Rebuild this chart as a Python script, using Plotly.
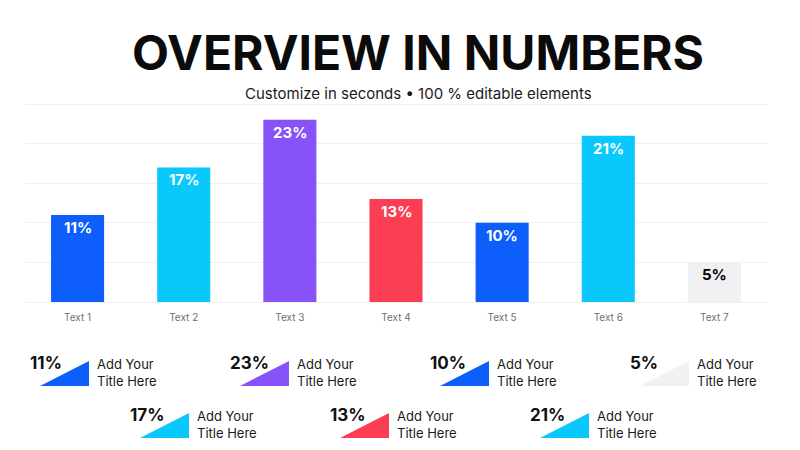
import plotly.graph_objects as go

# chart data
categories = ["Text 1", "Text 2", "Text 3", "Text 4", "Text 5", "Text 6", "Text 7"]
values = [11, 17, 23, 13, 10, 21, 5]
bar_colors = ["#0d5efb", "#0ac8fb", "#8752f7", "#fb3e53", "#0d5efb", "#0ac8fb", "#f1f0f3"]
label_colors = ["white", "white", "white", "white", "white", "white", "black"]
y_ticks = [0, 5, 10, 15, 20, 25]

title_text = "OVERVIEW IN NUMBERS"
subtitle_text = "Customize in seconds \u2022 100 % editable elements"
item_caption = "Add Your<br>Title Here"

W, H = 800, 450


def px(x):
    return x / W


def py(y):
    return (H - y) / H


fig = go.Figure()

fig.add_trace(go.Bar(
    x=categories,
    y=values,
    width=0.5,
    marker=dict(color=bar_colors, line=dict(width=0)),
    hoverinfo="x+y",
))

annotations = []
# value labels inside the bar tops
for cat, v, c in zip(categories, values, label_colors):
    annotations.append(dict(
        x=cat, y=v, xref="x", yref="y", text=f"<b>{v}%</b>",
        showarrow=False, yanchor="top", yshift=-1,
        font=dict(family="Inter", size=15, color=c),
    ))

# title block
annotations.append(dict(
    x=px(418), y=py(53), xref="paper", yref="paper", text=title_text,
    showarrow=False, xanchor="center", yanchor="middle",
    font=dict(family="Inter", size=48, color="#0b0b0b", weight=700),
))
annotations.append(dict(
    x=px(418), y=py(93), xref="paper", yref="paper", text=subtitle_text,
    showarrow=False, xanchor="center", yanchor="middle",
    font=dict(family="Inter", size=15, color="#1a1a1a"),
))

# small legend cards under the chart
shapes = []
for i, (v, c) in enumerate(zip(values, bar_colors)):
    dx = 100 * i
    dy = 52 * (i % 2)
    annotations.append(dict(
        x=px(28 + dx), y=py(363 + dy), xref="paper", yref="paper",
        text=f"<b>{v}%</b>", showarrow=False, xanchor="left", yanchor="middle",
        font=dict(family="Inter", size=17, color="#111111"),
    ))
    annotations.append(dict(
        x=px(95 + dx), y=py(372 + dy), xref="paper", yref="paper",
        text=item_caption, showarrow=False, xanchor="left", yanchor="middle",
        align="left",
        font=dict(family="Inter", size=13, color="#1a1a1a"),
    ))
    x0, x1 = px(40 + dx), px(89 + dx)
    y0, y1 = py(386 + dy), py(361 + dy)
    shapes.append(dict(
        type="path", xref="paper", yref="paper",
        path=f"M {x0},{y0} L {x1},{y0} L {x1},{y1} Z",
        fillcolor=c, line=dict(width=0),
    ))

fig.update_layout(
    width=W, height=H,
    margin=dict(l=0, r=0, t=0, b=0),
    paper_bgcolor="white",
    plot_bgcolor="white",
    showlegend=False,
    annotations=annotations,
    shapes=shapes,
    xaxis=dict(
        domain=[px(24.5), px(767.5)],
        showgrid=False, zeroline=False, showline=False,
        ticks="", ticklabelstandoff=8,
        tickfont=dict(family="Inter", size=10, color="#6f6f6f"),
    ),
    yaxis=dict(
        domain=[py(302), py(103)],
        range=[0, 25.13], tickvals=y_ticks, showticklabels=False,
        showgrid=True, gridcolor="#f0f0f0", gridwidth=1,
        zeroline=True, zerolinecolor="#f0f0f0", zerolinewidth=1,
        showline=False,
    ),
)

# drop the default page margin so the figure sits at the window corner
fig.write_html(
    "out.html",
    config={"displayModeBar": False},
    post_script="document.body.style.margin='0';",
)
